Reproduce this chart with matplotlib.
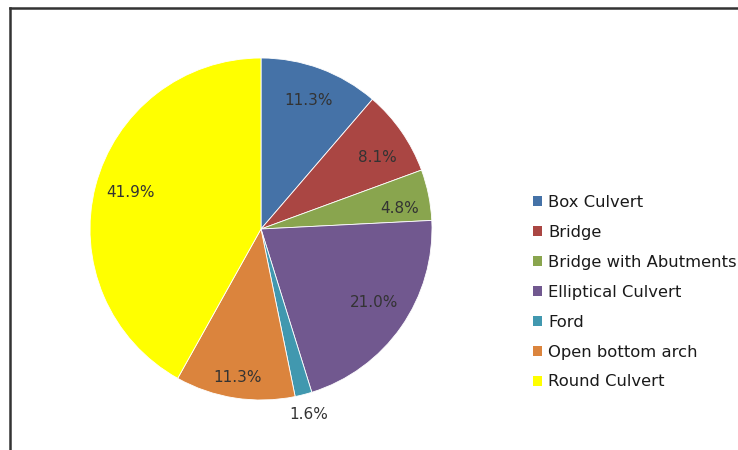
import numpy as np
import matplotlib
matplotlib.use("Agg")
import matplotlib.pyplot as plt
from matplotlib.lines import Line2D
from matplotlib.patches import Patch

categories = ["Box Culvert", "Bridge", "Bridge with Abutments", "Elliptical Culvert",
              "Ford", "Open bottom arch", "Round Culvert"]
shares = [11.3, 8.1, 4.8, 21.0, 1.6, 11.3, 41.9]
colors = ["#4572A7", "#AA4643", "#89A54E", "#71588F", "#4198AF", "#DB843D", "#FFFF00"]

# label placement (radius as fraction of pie radius, small angular nudge in degrees)
label_radius = [0.80, 0.80, 0.82, 0.79, 1.12, 0.88, 0.79]
label_nudge = [0, 3, 3, -2, 0, 0, 1]

W, H = 738, 450
fig = plt.figure(figsize=(W / 100, H / 100), dpi=100)
fig.patch.set_facecolor("white")

# pie area: centre (261, 229) px, radius 171 px
cx, cy, r = 261, 229, 171
ax = fig.add_axes([(cx - r) / W, (H - cy - r) / H, 2 * r / W, 2 * r / H])
wedges, _, autotexts = ax.pie(
    shares, colors=colors, startangle=90, counterclock=False,
    autopct=lambda p: f"{p:.1f}%", pctdistance=0.8,
    wedgeprops=dict(linewidth=0.6, edgecolor="white"),
    textprops=dict(color="#333333", fontsize=11, family="DejaVu Sans"))
ax.set_xlim(-1, 1)
ax.set_ylim(-1, 1)
ax.set_aspect("equal")

for w, t, rad, nudge in zip(wedges, autotexts, label_radius, label_nudge):
    mid = np.deg2rad((w.theta1 + w.theta2) / 2 - nudge)
    t.set_position((rad * np.cos(mid), rad * np.sin(mid)))

# legend
handles = [Patch(facecolor=c, edgecolor="none") for c in colors]
leg = fig.legend(handles, categories, loc="upper left",
                 bbox_to_anchor=(533 / W, 1 - 195 / H), frameon=False,
                 handlelength=0.55, handleheight=0.55, handletextpad=0.37,
                 labelspacing=0.91, prop=dict(size=11.8, family="DejaVu Sans"),
                 borderpad=0, borderaxespad=0)
for t in leg.get_texts():
    t.set_color("#1a1a1a")

# chart frame (top and left edges visible)
fig.add_artist(Line2D([10 / W, 1.0], [1 - 8 / H, 1 - 8 / H], color="#333333", lw=1.8,
                      transform=fig.transFigure))
fig.add_artist(Line2D([10 / W, 10 / W], [1 - 8 / H, 0.0], color="#333333", lw=1.8,
                      transform=fig.transFigure))

fig.savefig("out.png", dpi=100)
